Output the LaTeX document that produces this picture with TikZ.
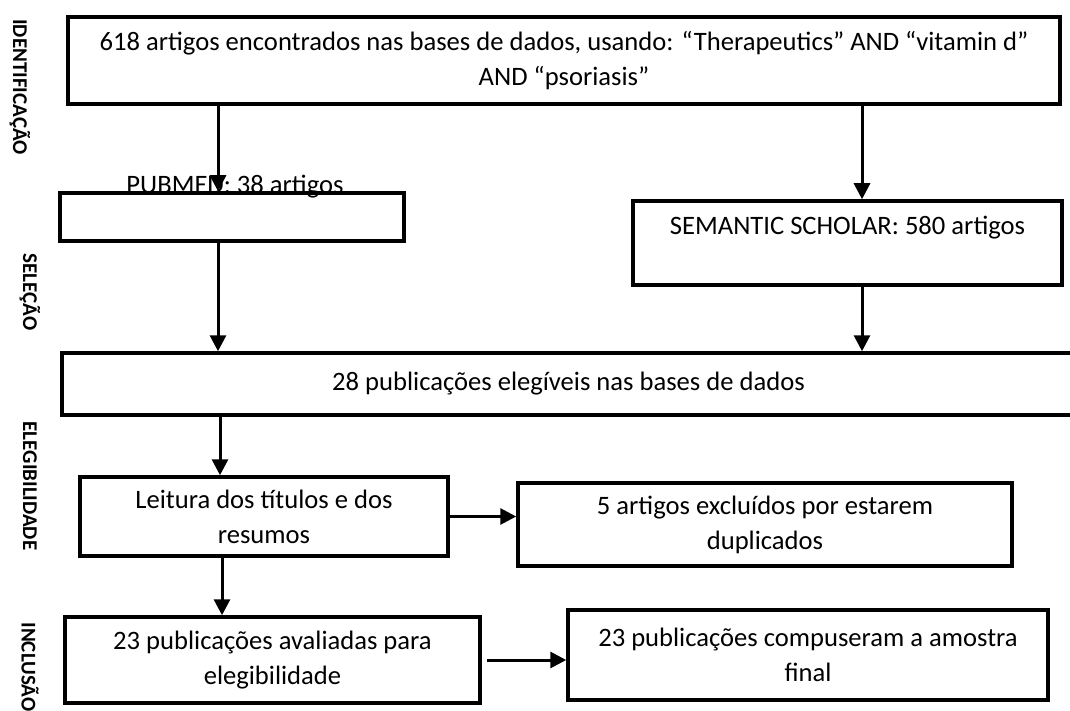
\documentclass[tikz,border=0pt]{standalone}
\usepackage{fontspec}
\setmainfont{Carlito}
\usetikzlibrary{arrows.meta}
\begin{document}
\begin{tikzpicture}[x=0.5pt,y=-0.5pt,
  box/.style={draw, line width=1.75pt, rectangle, inner sep=0pt, align=center,
    font=\fontsize{13.3}{17.5}\selectfont},
  plain/.style={font=\fontsize{13.3}{17.5}\selectfont, inner sep=0pt},
  arr/.style={line width=1.5pt, -{Triangle[width=8pt,length=8pt]}},
  lab/.style={font=\fontsize{10.5}{12}\selectfont\bfseries, rotate=-90, inner sep=0pt}]
\useasboundingbox (0,0) rectangle (1070,711);

% phase labels
\node[lab] (l1) at (20,87) {IDENTIFICAÇÃO};
\node[lab] (l2) at (30,292) {SELEÇÃO};
\node[lab] (l3) at (30,486) {ELEGIBILIDADE};
\node[lab] (l4) at (30,667) {INCLUSÃO};

% boxes
\node[box, minimum width=496pt, minimum height=43.5pt] (top) at (564,60.5)
  {618 artigos encontrados nas bases de dados, usando: “Therapeutics” AND “vitamin d”\\AND “psoriasis”};
\node[box, minimum width=172pt, minimum height=24pt] (pubmed) at (232,217) {};
\node[plain, anchor=base] (pubtxt) at (235,194) {PUBMED: 38 artigos};
\node[box, minimum width=214.5pt, minimum height=42pt] (sem) at (847.5,243)
  {SEMANTIC SCHOLAR: 580 artigos\\\mbox{}};
\node[box, minimum width=506.5pt, minimum height=31pt] (big) at (568.5,384)
  {28 publicações elegíveis nas bases de dados};
\node[box, minimum width=184pt, minimum height=39.5pt] (leit) at (264,516.5)
  {Leitura dos títulos e dos\\resumos};
\node[box, minimum width=247pt, minimum height=41.5pt] (cinco) at (765,524.5)
  {5 artigos excluídos por estarem\\duplicados};
\node[box, minimum width=207.5pt, minimum height=43pt] (aval) at (272.5,660)
  {23 publicações avaliadas para\\elegibilidade};
\node[box, minimum width=240pt, minimum height=45pt] (final) at (808,655)
  {23 publicações compuseram a amostra\\final};

% arrow columns
\coordinate (c1) at (218,0);
\coordinate (c2) at (220,0);
\coordinate (c3) at (222,0);
\coordinate (c4) at (862,0);

\draw[arr] (top.south -| c1) -- (pubmed.north -| c1);
\draw[arr] (top.south -| c4) -- (sem.north -| c4);
\draw[arr] (pubmed.south -| c1) -- (big.north -| c1);
\draw[arr] (sem.south -| c4) -- (big.north -| c4);
\draw[arr] (big.south -| c2) -- (leit.north -| c2);
\draw[arr] (leit.south -| c3) -- (aval.north -| c3);
\draw[arr] (leit.east) -- (leit.east -| cinco.west);
\draw[arr] ([xshift=2.5pt]aval.east) -- (aval.east -| final.west);
\end{tikzpicture}
\end{document}
